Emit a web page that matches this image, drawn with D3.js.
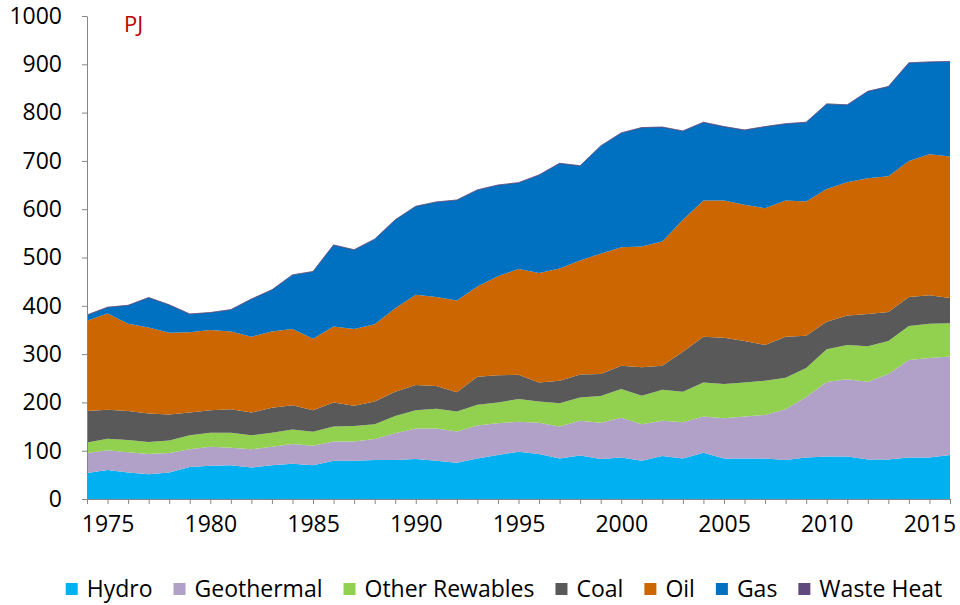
<!DOCTYPE html>
<html>
<head>
<meta charset="utf-8">
<script src="https://cdn.jsdelivr.net/npm/d3@7"></script>
<style>
  body { margin: 0; background: #fff; }
  svg text { font-family: "Open Sans", sans-serif; }
</style>
</head>
<body>
<svg id="chart" width="960" height="605"></svg>
<script>
const years = d3.range(1974, 2017);

const hydro = [54, 60, 55, 51, 55, 66, 69, 70, 65, 70, 73, 70, 79, 79, 81, 81, 83, 79, 75, 84, 91, 98, 93, 84, 90, 83, 86, 79, 89, 84, 96, 84, 84, 84, 81, 86, 88, 88, 82, 82, 86, 86, 91];
const geothermal = [41, 41, 42, 42, 40, 37, 39, 36, 38, 38, 41, 40, 40, 40, 43, 55, 63, 67, 65, 68, 66, 62, 65, 66, 72, 75, 82, 76, 73, 75, 75, 83, 87, 90, 105, 125, 154, 160, 161, 177, 202, 206, 204];
const otherRenewables = [22, 24, 25, 25, 26, 29, 29, 31, 29, 29, 30, 29, 31, 32, 31, 36, 38, 41, 41, 43, 43, 47, 44, 48, 48, 55, 60, 59, 64, 63, 70, 71, 70, 71, 65, 60, 68, 71, 73, 68, 70, 71, 69];
const coal = [65, 60, 60, 59, 54, 47, 47, 49, 47, 52, 50, 45, 50, 42, 47, 50, 52, 47, 40, 58, 56, 50, 39, 47, 48, 46, 48, 59, 50, 83, 95, 96, 86, 74, 85, 67, 57, 61, 67, 60, 60, 59, 52];
const oil = [187, 199, 181, 178, 169, 166, 166, 161, 157, 158, 158, 148, 157, 159, 160, 173, 187, 184, 190, 187, 205, 219, 227, 232, 236, 249, 245, 250, 257, 273, 282, 284, 282, 283, 282, 278, 275, 276, 281, 281, 282, 292, 293];
const gas = [12, 13, 38, 62, 58, 38, 36, 45, 78, 86, 112, 139, 169, 164, 176, 183, 183, 197, 208, 200, 189, 179, 203, 218, 196, 223, 237, 246, 237, 184, 162, 153, 155, 169, 159, 164, 176, 160, 180, 186, 203, 191, 197];
const wasteHeat = [0, 0, 0, 0, 0, 0, 0, 0, 0, 0, 0, 0, 0, 0, 0, 0, 0, 0, 0, 0, 0, 0, 0, 0, 0, 0, 0, 0, 0, 0, 0, 0, 0, 0, 0, 0, 0, 0, 0, 0, 0, 0, 0];

const seriesNames = ["Hydro", "Geothermal", "Other Rewables", "Coal", "Oil", "Gas", "Waste Heat"];
const seriesValues = [hydro, geothermal, otherRenewables, coal, oil, gas, wasteHeat];
const colors = ["#00B0F0", "#B1A0C7", "#92D050", "#595959", "#CC6600", "#0070C0", "#604A7B"];
const yTicks = [0, 100, 200, 300, 400, 500, 600, 700, 800, 900, 1000];

const svg = d3.select("#chart");
const plotLeft = 87, plotRight = 950, plotTop = 16, plotBottom = 499;

const table = years.map((yr, i) => {
  const row = { year: yr };
  seriesNames.forEach((n, k) => { row[n] = seriesValues[k][i]; });
  return row;
});

const stacked = d3.stack().keys(seriesNames)(table);

const x = d3.scaleLinear().domain([1974, 2016]).range([plotLeft, plotRight]);
const y = d3.scaleLinear().domain([0, 1000]).range([plotBottom, plotTop]);

const area = d3.area()
  .x(d => x(d.data.year))
  .y0(d => y(d[0]))
  .y1(d => y(d[1]));

svg.append("g")
  .selectAll("path")
  .data(stacked)
  .join("path")
  .attr("d", area)
  .attr("fill", (d, i) => colors[i])
  .attr("stroke", (d, i) => i === 6 ? colors[i] : "none")
  .attr("stroke-width", 0.8)
  .attr("stroke-opacity", 0.7);

// y axis
const yAxis = svg.append("g")
  .attr("transform", `translate(${plotLeft},0)`)
  .call(d3.axisLeft(y).tickValues(yTicks).tickFormat(d3.format("d"))
    .tickSize(5).tickSizeOuter(0).tickPadding(20));
yAxis.select(".domain").attr("stroke", "#868686");
yAxis.selectAll(".tick line").attr("stroke", "#868686");
yAxis.selectAll(".tick text")
  .attr("font-size", 23)
  .attr("fill", "#000")
  .attr("font-family", "Open Sans, sans-serif");

// x axis
const xAxis = svg.append("g")
  .attr("transform", `translate(0,${plotBottom})`)
  .call(d3.axisBottom(x).tickValues(years)
    .tickFormat(d => d % 5 === 0 ? d : "")
    .tickSize(5).tickSizeOuter(0).tickPadding(12));
xAxis.select(".domain").attr("stroke", "#868686");
xAxis.selectAll(".tick line").attr("stroke", "#868686");
xAxis.selectAll(".tick text")
  .attr("font-size", 23)
  .attr("fill", "#000")
  .attr("font-family", "Open Sans, sans-serif");

// unit label
svg.append("text")
  .text("PJ")
  .attr("x", 124)
  .attr("y", 32)
  .attr("fill", "#C00000")
  .style("font-size", "22px");

// legend
const legend = svg.append("g");
let cursor = 0;
seriesNames.forEach((name, i) => {
  const item = legend.append("g").attr("transform", `translate(${cursor},0)`);
  item.append("rect")
    .attr("x", 0).attr("y", -6)
    .attr("width", 12).attr("height", 12)
    .attr("fill", colors[i]);
  const t = item.append("text")
    .text(name)
    .attr("x", 21)
    .attr("y", 8)
    .attr("fill", "#000")
    .style("font-size", "23px");
  cursor += 21 + t.node().getComputedTextLength() + 21;
});
const legendWidth = cursor - 21;
legend.attr("transform", `translate(${504 - legendWidth / 2},589)`);
</script>
</body>
</html>
